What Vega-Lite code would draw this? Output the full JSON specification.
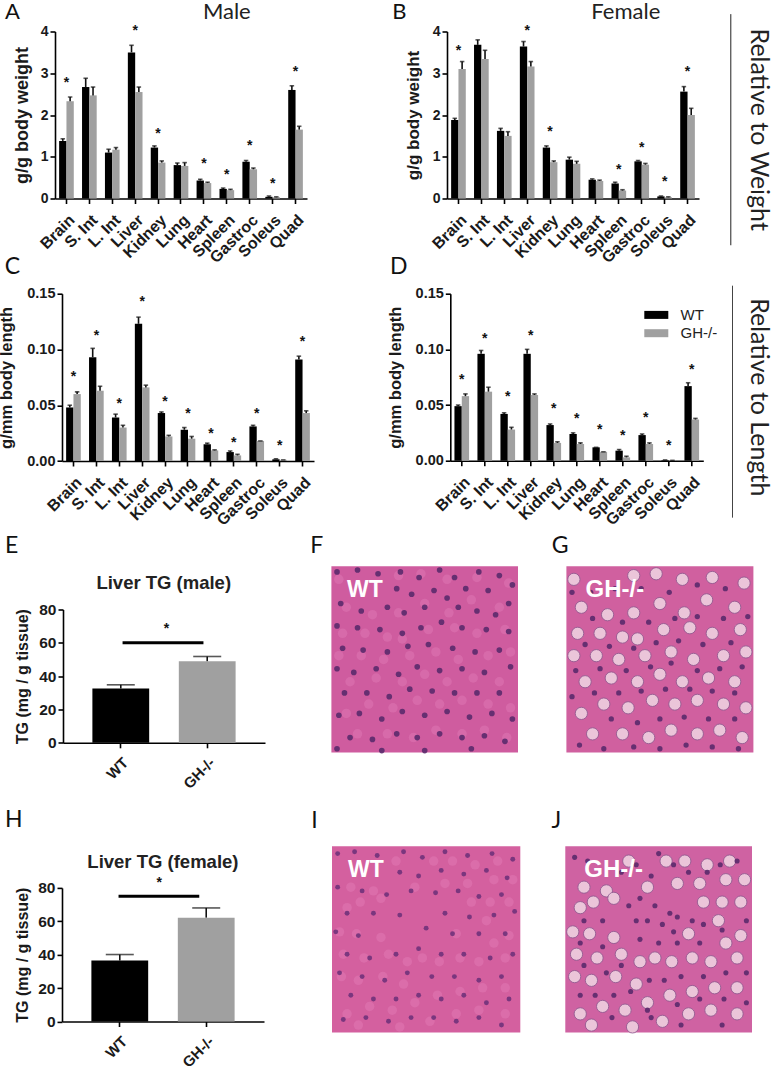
{
"$schema":"https://vega.github.io/schema/vega-lite/v6.json",
"padding":{"left":-2,"top":0.5,"right":0,"bottom":0},
"background":"white",
"bounds":"flush","spacing":578,
"config":{"view":{"stroke":null},"axis":{"grid":false,"domainColor":"#000","domainWidth":1.6,"tickColor":"#000","tickWidth":1.6,"tickSize":5,"labelFont":"Liberation Sans","labelFontWeight":"bold","labelColor":"#1a1a1a","labelOverlap":false,"labelBound":false,"labelFlush":false,"titleFont":"Liberation Sans","titleFontWeight":"bold","titleColor":"#1a1a1a"}},
"datasets":{
"a":[{"organ":"Brain","group":"WT","v":1.38,"e":1.43},{"organ":"Brain","group":"GH-/-","v":2.33,"e":2.43},{"organ":"S. Int","group":"WT","v":2.67,"e":2.88},{"organ":"S. Int","group":"GH-/-","v":2.47,"e":2.67},{"organ":"L. Int","group":"WT","v":1.1,"e":1.18},{"organ":"L. Int","group":"GH-/-","v":1.17,"e":1.22},{"organ":"Liver","group":"WT","v":3.5,"e":3.67},{"organ":"Liver","group":"GH-/-","v":2.55,"e":2.67},{"organ":"Kidney","group":"WT","v":1.22,"e":1.26},{"organ":"Kidney","group":"GH-/-","v":0.86,"e":0.9},{"organ":"Lung","group":"WT","v":0.8,"e":0.85},{"organ":"Lung","group":"GH-/-","v":0.78,"e":0.86},{"organ":"Heart","group":"WT","v":0.43,"e":0.46},{"organ":"Heart","group":"GH-/-","v":0.37,"e":0.39},{"organ":"Spleen","group":"WT","v":0.23,"e":0.25},{"organ":"Spleen","group":"GH-/-","v":0.2,"e":0.22},{"organ":"Gastroc","group":"WT","v":0.88,"e":0.91},{"organ":"Gastroc","group":"GH-/-","v":0.7,"e":0.73},{"organ":"Soleus","group":"WT","v":0.04,"e":0.06},{"organ":"Soleus","group":"GH-/-","v":0.03,"e":0.04},{"organ":"Quad","group":"WT","v":2.6,"e":2.7},{"organ":"Quad","group":"GH-/-","v":1.65,"e":1.73}],
"b":[{"organ":"Brain","group":"WT","v":1.88,"e":1.92},{"organ":"Brain","group":"GH-/-","v":3.1,"e":3.28},{"organ":"S. Int","group":"WT","v":3.68,"e":3.8},{"organ":"S. Int","group":"GH-/-","v":3.34,"e":3.55},{"organ":"L. Int","group":"WT","v":1.62,"e":1.68},{"organ":"L. Int","group":"GH-/-","v":1.5,"e":1.6},{"organ":"Liver","group":"WT","v":3.64,"e":3.76},{"organ":"Liver","group":"GH-/-","v":3.16,"e":3.28},{"organ":"Kidney","group":"WT","v":1.22,"e":1.26},{"organ":"Kidney","group":"GH-/-","v":0.87,"e":0.9},{"organ":"Lung","group":"WT","v":0.93,"e":0.99},{"organ":"Lung","group":"GH-/-","v":0.83,"e":0.89},{"organ":"Heart","group":"WT","v":0.45,"e":0.47},{"organ":"Heart","group":"GH-/-","v":0.42,"e":0.44},{"organ":"Spleen","group":"WT","v":0.36,"e":0.39},{"organ":"Spleen","group":"GH-/-","v":0.19,"e":0.21},{"organ":"Gastroc","group":"WT","v":0.89,"e":0.91},{"organ":"Gastroc","group":"GH-/-","v":0.81,"e":0.84},{"organ":"Soleus","group":"WT","v":0.05,"e":0.06},{"organ":"Soleus","group":"GH-/-","v":0.03,"e":0.04},{"organ":"Quad","group":"WT","v":2.56,"e":2.68},{"organ":"Quad","group":"GH-/-","v":2.0,"e":2.16}],
"c":[{"organ":"Brain","group":"WT","v":0.048,"e":0.05},{"organ":"Brain","group":"GH-/-","v":0.06,"e":0.062},{"organ":"S. Int","group":"WT","v":0.093,"e":0.101},{"organ":"S. Int","group":"GH-/-","v":0.063,"e":0.067},{"organ":"L. Int","group":"WT","v":0.039,"e":0.042},{"organ":"L. Int","group":"GH-/-","v":0.03,"e":0.032},{"organ":"Liver","group":"WT","v":0.123,"e":0.129},{"organ":"Liver","group":"GH-/-","v":0.066,"e":0.068},{"organ":"Kidney","group":"WT","v":0.043,"e":0.044},{"organ":"Kidney","group":"GH-/-","v":0.022,"e":0.023},{"organ":"Lung","group":"WT","v":0.028,"e":0.03},{"organ":"Lung","group":"GH-/-","v":0.02,"e":0.022},{"organ":"Heart","group":"WT","v":0.015,"e":0.016},{"organ":"Heart","group":"GH-/-","v":0.0095,"e":0.01},{"organ":"Spleen","group":"WT","v":0.008,"e":0.009},{"organ":"Spleen","group":"GH-/-","v":0.005,"e":0.006},{"organ":"Gastroc","group":"WT","v":0.031,"e":0.032},{"organ":"Gastroc","group":"GH-/-","v":0.018,"e":0.018},{"organ":"Soleus","group":"WT","v":0.0015,"e":0.002},{"organ":"Soleus","group":"GH-/-","v":0.001,"e":0.001},{"organ":"Quad","group":"WT","v":0.091,"e":0.094},{"organ":"Quad","group":"GH-/-","v":0.043,"e":0.045}],
"d":[{"organ":"Brain","group":"WT","v":0.049,"e":0.05},{"organ":"Brain","group":"GH-/-","v":0.058,"e":0.06},{"organ":"S. Int","group":"WT","v":0.096,"e":0.099},{"organ":"S. Int","group":"GH-/-","v":0.062,"e":0.066},{"organ":"L. Int","group":"WT","v":0.042,"e":0.043},{"organ":"L. Int","group":"GH-/-","v":0.028,"e":0.03},{"organ":"Liver","group":"WT","v":0.096,"e":0.1},{"organ":"Liver","group":"GH-/-","v":0.059,"e":0.06},{"organ":"Kidney","group":"WT","v":0.032,"e":0.033},{"organ":"Kidney","group":"GH-/-","v":0.016,"e":0.017},{"organ":"Lung","group":"WT","v":0.024,"e":0.025},{"organ":"Lung","group":"GH-/-","v":0.015,"e":0.016},{"organ":"Heart","group":"WT","v":0.012,"e":0.012},{"organ":"Heart","group":"GH-/-","v":0.008,"e":0.008},{"organ":"Spleen","group":"WT","v":0.009,"e":0.01},{"organ":"Spleen","group":"GH-/-","v":0.003,"e":0.004},{"organ":"Gastroc","group":"WT","v":0.023,"e":0.024},{"organ":"Gastroc","group":"GH-/-","v":0.015,"e":0.016},{"organ":"Soleus","group":"WT","v":0.0005,"e":0.0007},{"organ":"Soleus","group":"GH-/-","v":0.0002,"e":0.0003},{"organ":"Quad","group":"WT","v":0.067,"e":0.07},{"organ":"Quad","group":"GH-/-","v":0.037,"e":0.038}],
"e":[{"group":"WT","v":32.6,"e":34.8},{"group":"GH-/-","v":49,"e":51.8}],
"h":[{"group":"WT","v":36.5,"e":40.1},{"group":"GH-/-","v":62.2,"e":68}],
"fn":[{"x":3,"y":3},{"x":14,"y":2},{"x":25,"y":4},{"x":37,"y":3},{"x":47,"y":6},{"x":58,"y":2},{"x":66,"y":6},{"x":79,"y":3},{"x":90,"y":5},{"x":97,"y":10},{"x":35,"y":12},{"x":43,"y":15},{"x":55,"y":13},{"x":62,"y":17},{"x":72,"y":12},{"x":84,"y":13},{"x":95,"y":20},{"x":5,"y":20},{"x":16,"y":24},{"x":30,"y":22},{"x":39,"y":25},{"x":50,"y":22},{"x":68,"y":22},{"x":78,"y":24},{"x":88,"y":26},{"x":3,"y":32},{"x":14,"y":33},{"x":26,"y":34},{"x":38,"y":36},{"x":48,"y":33},{"x":59,"y":30},{"x":70,"y":33},{"x":83,"y":34},{"x":95,"y":35},{"x":6,"y":44},{"x":17,"y":45},{"x":30,"y":46},{"x":41,"y":43},{"x":52,"y":42},{"x":65,"y":44},{"x":77,"y":46},{"x":90,"y":45},{"x":3,"y":55},{"x":12,"y":57},{"x":24,"y":55},{"x":36,"y":58},{"x":46,"y":54},{"x":58,"y":56},{"x":70,"y":55},{"x":82,"y":57},{"x":96,"y":54},{"x":7,"y":68},{"x":19,"y":68},{"x":31,"y":70},{"x":42,"y":66},{"x":54,"y":67},{"x":66,"y":68},{"x":78,"y":68},{"x":90,"y":68},{"x":4,"y":80},{"x":15,"y":79},{"x":27,"y":82},{"x":38,"y":78},{"x":50,"y":80},{"x":62,"y":78},{"x":74,"y":81},{"x":86,"y":79},{"x":97,"y":82},{"x":10,"y":92},{"x":22,"y":93},{"x":35,"y":90},{"x":46,"y":92},{"x":58,"y":90},{"x":70,"y":92},{"x":82,"y":91},{"x":93,"y":94},{"x":3,"y":98},{"x":27,"y":99},{"x":50,"y":99},{"x":75,"y":98}],
"gv":[{"x":4,"y":7},{"x":36,"y":5},{"x":48,"y":4},{"x":62,"y":7},{"x":78,"y":6},{"x":95,"y":9},{"x":8,"y":22},{"x":22,"y":26},{"x":36,"y":25},{"x":50,"y":20},{"x":63,"y":25},{"x":75,"y":18},{"x":90,"y":22},{"x":6,"y":36},{"x":18,"y":36},{"x":30,"y":38},{"x":38,"y":39},{"x":52,"y":34},{"x":66,"y":33},{"x":78,"y":36},{"x":93,"y":34},{"x":4,"y":48},{"x":16,"y":48},{"x":28,"y":50},{"x":42,"y":48},{"x":56,"y":46},{"x":68,"y":50},{"x":84,"y":48},{"x":96,"y":46},{"x":10,"y":62},{"x":24,"y":60},{"x":38,"y":62},{"x":50,"y":58},{"x":62,"y":62},{"x":76,"y":60},{"x":90,"y":62},{"x":8,"y":79},{"x":20,"y":74},{"x":33,"y":76},{"x":46,"y":72},{"x":58,"y":74},{"x":70,"y":72},{"x":84,"y":74},{"x":96,"y":76},{"x":14,"y":90},{"x":30,"y":90},{"x":44,"y":92},{"x":56,"y":88},{"x":70,"y":90},{"x":82,"y":88},{"x":94,"y":92}],
"gn":[{"x":3,"y":14},{"x":13,"y":14},{"x":26,"y":12},{"x":30,"y":30},{"x":14,"y":28},{"x":44,"y":30},{"x":58,"y":28},{"x":70,"y":27},{"x":84,"y":28},{"x":97,"y":27},{"x":10,"y":42},{"x":23,"y":43},{"x":36,"y":44},{"x":48,"y":41},{"x":60,"y":40},{"x":73,"y":42},{"x":88,"y":41},{"x":18,"y":55},{"x":32,"y":56},{"x":45,"y":54},{"x":56,"y":52},{"x":70,"y":56},{"x":82,"y":55},{"x":94,"y":54},{"x":5,"y":56},{"x":15,"y":68},{"x":28,"y":68},{"x":40,"y":67},{"x":53,"y":66},{"x":66,"y":66},{"x":78,"y":67},{"x":90,"y":68},{"x":3,"y":70},{"x":24,"y":82},{"x":38,"y":84},{"x":50,"y":82},{"x":63,"y":81},{"x":76,"y":82},{"x":90,"y":82},{"x":7,"y":96},{"x":20,"y":98},{"x":36,"y":97},{"x":50,"y":98},{"x":64,"y":96},{"x":78,"y":97},{"x":92,"y":98},{"x":40,"y":12},{"x":55,"y":14},{"x":70,"y":10},{"x":85,"y":12}],
"in":[{"x":3,"y":4},{"x":12,"y":3},{"x":24,"y":5},{"x":38,"y":3},{"x":48,"y":6},{"x":60,"y":3},{"x":72,"y":5},{"x":85,"y":4},{"x":96,"y":7},{"x":36,"y":14},{"x":46,"y":16},{"x":58,"y":13},{"x":70,"y":15},{"x":82,"y":13},{"x":93,"y":17},{"x":3,"y":22},{"x":16,"y":24},{"x":29,"y":26},{"x":42,"y":24},{"x":55,"y":25},{"x":67,"y":24},{"x":78,"y":27},{"x":90,"y":26},{"x":8,"y":36},{"x":22,"y":36},{"x":36,"y":37},{"x":60,"y":36},{"x":73,"y":38},{"x":86,"y":37},{"x":97,"y":35},{"x":2,"y":46},{"x":14,"y":48},{"x":50,"y":44},{"x":64,"y":47},{"x":78,"y":47},{"x":92,"y":47},{"x":8,"y":58},{"x":20,"y":60},{"x":34,"y":58},{"x":46,"y":55},{"x":58,"y":58},{"x":70,"y":58},{"x":84,"y":60},{"x":96,"y":58},{"x":4,"y":68},{"x":16,"y":70},{"x":28,"y":72},{"x":40,"y":68},{"x":53,"y":70},{"x":65,"y":70},{"x":78,"y":72},{"x":90,"y":70},{"x":10,"y":80},{"x":22,"y":82},{"x":34,"y":82},{"x":46,"y":80},{"x":58,"y":82},{"x":70,"y":80},{"x":82,"y":84},{"x":94,"y":82},{"x":6,"y":93},{"x":18,"y":92},{"x":30,"y":94},{"x":42,"y":92},{"x":54,"y":92},{"x":66,"y":94},{"x":78,"y":92},{"x":90,"y":96}],
"jv":[{"x":10,"y":22},{"x":22,"y":24},{"x":26,"y":28},{"x":8,"y":33},{"x":15,"y":30},{"x":4,"y":46},{"x":13,"y":47},{"x":26,"y":49},{"x":6,"y":58},{"x":17,"y":60},{"x":30,"y":58},{"x":40,"y":62},{"x":5,"y":70},{"x":14,"y":72},{"x":27,"y":70},{"x":38,"y":74},{"x":48,"y":60},{"x":57,"y":62},{"x":68,"y":60},{"x":78,"y":62},{"x":92,"y":60},{"x":66,"y":47},{"x":86,"y":52},{"x":94,"y":48},{"x":74,"y":30},{"x":84,"y":30},{"x":94,"y":30},{"x":82,"y":40},{"x":64,"y":8},{"x":54,"y":8},{"x":76,"y":10},{"x":88,"y":8},{"x":60,"y":20},{"x":72,"y":20},{"x":86,"y":18},{"x":96,"y":18},{"x":44,"y":22},{"x":34,"y":8},{"x":8,"y":90},{"x":20,"y":86},{"x":32,"y":88},{"x":44,"y":84},{"x":56,"y":80},{"x":68,"y":78},{"x":80,"y":76},{"x":92,"y":76},{"x":14,"y":96},{"x":36,"y":97},{"x":52,"y":94},{"x":66,"y":90},{"x":78,"y":88},{"x":92,"y":90}],
"jn":[{"x":5,"y":6},{"x":12,"y":8},{"x":38,"y":10},{"x":50,"y":4},{"x":58,"y":10},{"x":76,"y":14},{"x":83,"y":10},{"x":92,"y":8},{"x":30,"y":14},{"x":46,"y":16},{"x":66,"y":14},{"x":40,"y":28},{"x":48,"y":32},{"x":56,"y":36},{"x":44,"y":40},{"x":52,"y":42},{"x":60,"y":38},{"x":38,"y":40},{"x":34,"y":32},{"x":20,"y":40},{"x":10,"y":40},{"x":74,"y":42},{"x":84,"y":45},{"x":97,"y":40},{"x":40,"y":50},{"x":50,"y":52},{"x":60,"y":52},{"x":72,"y":52},{"x":58,"y":46},{"x":68,"y":40},{"x":8,"y":52},{"x":20,"y":54},{"x":30,"y":64},{"x":22,"y":68},{"x":10,"y":64},{"x":35,"y":78},{"x":45,"y":72},{"x":53,"y":72},{"x":62,"y":70},{"x":74,"y":70},{"x":86,"y":68},{"x":97,"y":68},{"x":8,"y":80},{"x":16,"y":80},{"x":26,"y":80},{"x":44,"y":88},{"x":60,"y":85},{"x":72,"y":82},{"x":85,"y":82},{"x":97,"y":84},{"x":25,"y":92},{"x":46,"y":92},{"x":62,"y":96},{"x":84,"y":96}]
},
"vconcat":[
{"bounds":"flush","spacing":262.2,"vconcat":[
{"bounds":"flush","spacing":675.8,"hconcat":[
{"bounds":"flush","spacing":140,"hconcat":[
{"width":252,"height":167,"data":{"name":"a"},
"encoding":{"x":{"field":"organ","type":"nominal","title":null,"scale":{"domain":["Brain","S. Int","L. Int","Liver","Kidney","Lung","Heart","Spleen","Gastroc","Soleus","Quad"],"paddingInner":0.36,"paddingOuter":0.18},"axis":{"labelAngle":-45,"labelFontSize":16,"labelPadding":8}},"y":{"field":"v","type":"quantitative","title":"g/g body weight","scale":{"domain":[0,4],"nice":false},"axis":{"values":[0,1,2,3,4],"labelFontSize":14,"titleFontSize":18,"titlePadding":9}}},
"layer":[
{"mark":{"type":"bar"},"encoding":{"xOffset":{"field":"group","scale":{"domain":["WT","GH-/-"]}},"color":{"field":"group","scale":{"domain":["WT","GH-/-"],"range":["#000000","#a0a0a0"]}}}},
{"mark":{"type":"rule","color":"#111","strokeWidth":1.6},"encoding":{"xOffset":{"field":"group","scale":{"domain":["WT","GH-/-"]}},"y2":{"field":"e"}}},
{"mark":{"type":"tick","color":"#111","size":4.5,"thickness":1.6},"encoding":{"xOffset":{"field":"group","scale":{"domain":["WT","GH-/-"]}},"y":{"field":"e","type":"quantitative","title":"g/g body weight","scale":{"domain":[0,4],"nice":false}}}},
{"data":{"values":[{"organ":"Brain","v":2.83},{"organ":"Liver","v":4.09},{"organ":"Kidney","v":1.61},{"organ":"Heart","v":0.9},{"organ":"Spleen","v":0.64},{"organ":"Gastroc","v":1.32},{"organ":"Soleus","v":0.42},{"organ":"Quad","v":3.11}]},"mark":{"type":"text","text":"*","font":"Liberation Sans","fontWeight":"bold","fontSize":14,"dy":3,"color":"#111"}},
{"data":{"values":[{"organ":"Brain","v":4.47,"label":"A"}]},"mark":{"type":"text","font":"Lato","fontSize":22,"dx":-54,"color":"#111"},"encoding":{"text":{"field":"label"}}},
{"data":{"values":[{"organ":"Spleen","v":4.47,"label":"Male"}]},"mark":{"type":"text","font":"Lato","fontSize":22,"color":"#222"},"encoding":{"text":{"field":"label"}}}
]},
{"width":252,"height":167,"data":{"name":"b"},
"encoding":{"x":{"field":"organ","type":"nominal","title":null,"scale":{"domain":["Brain","S. Int","L. Int","Liver","Kidney","Lung","Heart","Spleen","Gastroc","Soleus","Quad"],"paddingInner":0.36,"paddingOuter":0.18},"axis":{"labelAngle":-45,"labelFontSize":16,"labelPadding":8}},"y":{"field":"v","type":"quantitative","title":"g/g body weight","scale":{"domain":[0,4],"nice":false},"axis":{"values":[0,1,2,3,4],"labelFontSize":14,"titleFontSize":17,"titlePadding":10}}},
"layer":[
{"mark":{"type":"bar"},"encoding":{"xOffset":{"field":"group","scale":{"domain":["WT","GH-/-"]}},"color":{"field":"group","scale":{"domain":["WT","GH-/-"],"range":["#000000","#a0a0a0"]}}}},
{"mark":{"type":"rule","color":"#111","strokeWidth":1.6},"encoding":{"xOffset":{"field":"group","scale":{"domain":["WT","GH-/-"]}},"y2":{"field":"e"}}},
{"mark":{"type":"tick","color":"#111","size":4.5,"thickness":1.6},"encoding":{"xOffset":{"field":"group","scale":{"domain":["WT","GH-/-"]}},"y":{"field":"e","type":"quantitative","title":"g/g body weight","scale":{"domain":[0,4],"nice":false}}}},
{"data":{"values":[{"organ":"Brain","v":3.61},{"organ":"Liver","v":4.09},{"organ":"Kidney","v":1.66},{"organ":"Spleen","v":0.76},{"organ":"Gastroc","v":1.27},{"organ":"Soleus","v":0.46},{"organ":"Quad","v":3.11}]},"mark":{"type":"text","text":"*","font":"Liberation Sans","fontWeight":"bold","fontSize":14,"dy":3,"color":"#111"}},
{"data":{"values":[{"organ":"Brain","v":4.47,"label":"B"}]},"mark":{"type":"text","font":"Lato","fontSize":22,"dx":-59,"color":"#111"},"encoding":{"text":{"field":"label"}}},
{"data":{"values":[{"organ":"Spleen","v":4.47,"label":"Female"}]},"mark":{"type":"text","font":"Lato","fontSize":22,"dx":7,"color":"#222"},"encoding":{"text":{"field":"label"}}}
]}
]},
{"width":42,"height":167,"layer":[
{"data":{"values":[{"x":0,"y":1.104,"y2":-0.28}]},"mark":{"type":"rule","color":"#222","strokeWidth":1},"encoding":{"x":{"field":"x","type":"quantitative","axis":null,"scale":{"domain":[0,1],"nice":false}},"y":{"field":"y","type":"quantitative","axis":null,"scale":{"domain":[0,1],"nice":false}},"y2":{"field":"y2"}}},
{"data":{"values":[{"x":0.66,"y":0.412,"label":"Relative to Weight"}]},"mark":{"type":"text","font":"Lato","fontSize":25,"angle":90,"color":"#222"},"encoding":{"x":{"field":"x","type":"quantitative","axis":null,"scale":{"domain":[0,1],"nice":false}},"y":{"field":"y","type":"quantitative","axis":null,"scale":{"domain":[0,1],"nice":false}},"text":{"field":"label"}}}
]}
]},
{"bounds":"flush","spacing":0,"hconcat":[
{"width":6.7,"height":1,"data":{"values":[]},"mark":"rule","encoding":{}},
{"bounds":"flush","spacing":670.5,"hconcat":[
{"bounds":"flush","spacing":136.3,"hconcat":[
{"width":252,"height":167.3,"data":{"name":"c"},
"encoding":{"x":{"field":"organ","type":"nominal","title":null,"scale":{"domain":["Brain","S. Int","L. Int","Liver","Kidney","Lung","Heart","Spleen","Gastroc","Soleus","Quad"],"paddingInner":0.36,"paddingOuter":0.18},"axis":{"labelAngle":-45,"labelFontSize":16,"labelPadding":8}},"y":{"field":"v","type":"quantitative","title":"g/mm body length","scale":{"domain":[0,0.15],"nice":false},"axis":{"values":[0,0.05,0.1,0.15],"format":".2f","labelFontSize":14.5,"titleFontSize":16.5,"titlePadding":12}}},
"layer":[
{"mark":{"type":"bar"},"encoding":{"xOffset":{"field":"group","scale":{"domain":["WT","GH-/-"]}},"color":{"field":"group","scale":{"domain":["WT","GH-/-"],"range":["#000000","#a0a0a0"]}}}},
{"mark":{"type":"rule","color":"#111","strokeWidth":1.6},"encoding":{"xOffset":{"field":"group","scale":{"domain":["WT","GH-/-"]}},"y2":{"field":"e"}}},
{"mark":{"type":"tick","color":"#111","size":4.5,"thickness":1.6},"encoding":{"xOffset":{"field":"group","scale":{"domain":["WT","GH-/-"]}},"y":{"field":"e","type":"quantitative","title":"g/mm body length","scale":{"domain":[0,0.15],"nice":false}}}},
{"data":{"values":[{"organ":"Brain","v":0.078},{"organ":"S. Int","v":0.115},{"organ":"L. Int","v":0.054},{"organ":"Liver","v":0.145},{"organ":"Kidney","v":0.056},{"organ":"Lung","v":0.045},{"organ":"Heart","v":0.027},{"organ":"Spleen","v":0.0185},{"organ":"Gastroc","v":0.0445},{"organ":"Soleus","v":0.016},{"organ":"Quad","v":0.109}]},"mark":{"type":"text","text":"*","font":"Liberation Sans","fontWeight":"bold","fontSize":14,"dy":3,"color":"#111"}},
{"data":{"values":[{"organ":"Brain","v":0.1742,"label":"C"}]},"mark":{"type":"text","font":"Lato","fontSize":23,"dx":-61,"color":"#111"},"encoding":{"text":{"field":"label"}}}
]},
{"width":253,"height":167,"data":{"name":"d"},
"encoding":{"x":{"field":"organ","type":"nominal","title":null,"scale":{"domain":["Brain","S. Int","L. Int","Liver","Kidney","Lung","Heart","Spleen","Gastroc","Soleus","Quad"],"paddingInner":0.36,"paddingOuter":0.18},"axis":{"labelAngle":-45,"labelFontSize":16,"labelPadding":8}},"y":{"field":"v","type":"quantitative","title":"g/mm body length","scale":{"domain":[0,0.15],"nice":false},"axis":{"values":[0,0.05,0.1,0.15],"format":".2f","labelFontSize":14.5,"titleFontSize":16.5,"titlePadding":12}}},
"layer":[
{"mark":{"type":"bar"},"encoding":{"xOffset":{"field":"group","scale":{"domain":["WT","GH-/-"]}},"color":{"field":"group","scale":{"domain":["WT","GH-/-"],"range":["#000000","#a0a0a0"]},"legend":{"orient":"none","legendX":593.8,"legendY":275.9,"title":null,"symbolType":"M-12,-4H12V4H-12Z","symbolSize":4,"symbolStrokeWidth":0,"labelFont":"Liberation Sans","labelFontSize":15,"labelColor":"#222","labelOffset":16.7,"rowPadding":2.3}}}},
{"mark":{"type":"rule","color":"#111","strokeWidth":1.6},"encoding":{"xOffset":{"field":"group","scale":{"domain":["WT","GH-/-"]}},"y2":{"field":"e"}}},
{"mark":{"type":"tick","color":"#111","size":4.5,"thickness":1.6},"encoding":{"xOffset":{"field":"group","scale":{"domain":["WT","GH-/-"]}},"y":{"field":"e","type":"quantitative","title":"g/mm body length","scale":{"domain":[0,0.15],"nice":false}}}},
{"data":{"values":[{"organ":"Brain","v":0.075},{"organ":"S. Int","v":0.112},{"organ":"L. Int","v":0.06},{"organ":"Liver","v":0.115},{"organ":"Kidney","v":0.049},{"organ":"Lung","v":0.04},{"organ":"Heart","v":0.03},{"organ":"Spleen","v":0.0245},{"organ":"Gastroc","v":0.041},{"organ":"Soleus","v":0.0155},{"organ":"Quad","v":0.084}]},"mark":{"type":"text","text":"*","font":"Liberation Sans","fontWeight":"bold","fontSize":14,"dy":3,"color":"#111"}},
{"data":{"values":[{"organ":"Brain","v":0.1743,"label":"D"}]},"mark":{"type":"text","font":"Lato","fontSize":23,"dx":-63,"color":"#111"},"encoding":{"text":{"field":"label"}}}
]}
]},
{"width":42,"height":167,"layer":[
{"data":{"values":[{"x":0,"y":1.048,"y2":-0.341}]},"mark":{"type":"rule","color":"#444","strokeWidth":1},"encoding":{"x":{"field":"x","type":"quantitative","axis":null,"scale":{"domain":[0,1],"nice":false}},"y":{"field":"y","type":"quantitative","axis":null,"scale":{"domain":[0,1],"nice":false}},"y2":{"field":"y2"}}},
{"data":{"values":[{"x":0.626,"y":0.38,"label":"Relative to Length"}]},"mark":{"type":"text","font":"Lato","fontSize":25,"angle":90,"color":"#222"},"encoding":{"x":{"field":"x","type":"quantitative","axis":null,"scale":{"domain":[0,1],"nice":false}},"y":{"field":"y","type":"quantitative","axis":null,"scale":{"domain":[0,1],"nice":false}},"text":{"field":"label"}}}
]}
]}
]}
]},
{"bounds":"flush","spacing":278.4,"vconcat":[
{"bounds":"flush","spacing":0,"hconcat":[
{"width":7.8,"height":1,"data":{"values":[]},"mark":"rule","encoding":{}},
{"bounds":"flush","spacing":503.4,"hconcat":[
{"bounds":"flush","spacing":66.4,"hconcat":[
{"width":202,"height":133.3,"data":{"name":"e"},"resolve":{"scale":{"x":"independent"}},
"encoding":{"y":{"field":"v","type":"quantitative","title":"TG (mg / g tissue)","scale":{"domain":[0,80],"nice":false},"axis":{"values":[0,20,40,60,80],"labelFontSize":15.5,"titleFontSize":16,"titlePadding":8}}},
"layer":[
{"mark":{"type":"bar"},"encoding":{"x":{"field":"group","type":"nominal","title":null,"scale":{"domain":["WT","GH-/-"],"paddingInner":0.343,"paddingOuter":0.34},"axis":{"labelAngle":-45,"labelFontSize":15,"labelPadding":7}},"color":{"field":"group","scale":{"domain":["WT","GH-/-"],"range":["#000000","#a0a0a0"]}}}},
{"mark":{"type":"rule","color":"#111","strokeWidth":1.6},"encoding":{"x":{"field":"group","type":"nominal","axis":null,"scale":{"domain":["WT","GH-/-"],"paddingInner":0.343,"paddingOuter":0.34}},"y2":{"field":"e"}}},
{"mark":{"type":"tick","color":"#111","size":28,"thickness":1.6},"encoding":{"x":{"field":"group","type":"nominal","axis":null,"scale":{"domain":["WT","GH-/-"],"paddingInner":0.343,"paddingOuter":0.34}},"y":{"field":"e","type":"quantitative","title":"TG (mg / g tissue)","scale":{"domain":[0,80],"nice":false}}}},
{"data":{"values":[{"p":0.69,"p2":1.627,"v":60}]},"mark":{"type":"rule","color":"#000","strokeWidth":3},"encoding":{"x":{"field":"p","type":"quantitative","axis":null,"scale":{"domain":[0,2.34],"nice":false}},"x2":{"field":"p2"}}},
{"data":{"values":[{"p":1.198,"v":70,"label":"*"}]},"mark":{"type":"text","font":"Liberation Sans","fontWeight":"bold","fontSize":14,"dy":3,"color":"#111"},"encoding":{"x":{"field":"p","type":"quantitative","axis":null,"scale":{"domain":[0,2.34],"nice":false}},"text":{"field":"label"}}},
{"data":{"values":[{"p":-0.594,"v":118,"label":"E"}]},"mark":{"type":"text","font":"Lato","fontSize":23,"color":"#111"},"encoding":{"x":{"field":"p","type":"quantitative","axis":null,"scale":{"domain":[0,2.34],"nice":false}},"text":{"field":"label"}}},
{"data":{"values":[{"p":1.167,"v":96,"label":"Liver TG (male)"}]},"mark":{"type":"text","font":"Liberation Sans","fontWeight":"bold","fontSize":18.5,"color":"#222"},"encoding":{"x":{"field":"p","type":"quantitative","axis":null,"scale":{"domain":[0,2.34],"nice":false}},"text":{"field":"label"}}}
]},
{"width":186.6,"height":133.3,
"encoding":{"x":{"field":"x","type":"quantitative","axis":null,"scale":{"domain":[0,100],"nice":false,"zero":false}},"y":{"field":"y","type":"quantitative","axis":null,"scale":{"domain":[94.8,23.2],"nice":false,"zero":false}}},
"layer":[
{"data":{"values":[{"x":0,"x2":100,"y":0,"y2":100}]},"mark":{"type":"rect","color":"#cf5c9f"},"encoding":{"x2":{"field":"x2"},"y2":{"field":"y2"}}},
{"data":{"name":"gv"},"mark":{"type":"circle","color":"#ea8cc4","size":90,"opacity":0.3}},
{"data":{"name":"fn"},"mark":{"type":"circle","color":"#5a2a6c","size":32,"opacity":0.9}},
{"data":{"values":[{"x":18,"y":12.9,"label":"WT"}]},"mark":{"type":"text","font":"Liberation Sans","fontWeight":"bold","fontSize":23,"color":"#ffffff"},"encoding":{"text":{"field":"label"}}},
{"data":{"values":[{"x":-7.9,"y":-10.9,"label":"F"}]},"mark":{"type":"text","font":"Lato","fontSize":23,"color":"#111"},"encoding":{"text":{"field":"label"}}}
]}
]},
{"width":187,"height":133.3,
"encoding":{"x":{"field":"x","type":"quantitative","axis":null,"scale":{"domain":[0,100],"nice":false,"zero":false}},"y":{"field":"y","type":"quantitative","axis":null,"scale":{"domain":[94.8,23.2],"nice":false,"zero":false}}},
"layer":[
{"data":{"values":[{"x":0,"x2":100,"y":0,"y2":100}]},"mark":{"type":"rect","color":"#d0609f"},"encoding":{"x2":{"field":"x2"},"y2":{"field":"y2"}}},
{"data":{"name":"gv"},"mark":{"type":"circle","color":"#efd0e0","size":150,"opacity":0.9,"stroke":"#8d5a90","strokeWidth":0.9}},
{"data":{"name":"gn"},"mark":{"type":"circle","color":"#5a2a6c","size":28,"opacity":0.9}},
{"data":{"values":[{"x":25.9,"y":12.9,"label":"GH-/-"}]},"mark":{"type":"text","font":"Liberation Sans","fontWeight":"bold","fontSize":24,"color":"#ffffff"},"encoding":{"text":{"field":"label"}}},
{"data":{"values":[{"x":-3.4,"y":-10.9,"label":"G"}]},"mark":{"type":"text","font":"Lato","fontSize":23,"color":"#111"},"encoding":{"text":{"field":"label"}}}
]}
]}
]},
{"bounds":"flush","spacing":0,"hconcat":[
{"width":6.2,"height":1,"data":{"values":[]},"mark":"rule","encoding":{}},
{"bounds":"flush","spacing":503.3,"hconcat":[
{"bounds":"flush","spacing":68,"hconcat":[
{"width":202,"height":133.6,"data":{"name":"h"},"resolve":{"scale":{"x":"independent"}},
"encoding":{"y":{"field":"v","type":"quantitative","title":"TG (mg / g tissue)","scale":{"domain":[0,80],"nice":false},"axis":{"values":[0,20,40,60,80],"labelFontSize":15.5,"titleFontSize":16,"titlePadding":7}}},
"layer":[
{"mark":{"type":"bar"},"encoding":{"x":{"field":"group","type":"nominal","title":null,"scale":{"domain":["WT","GH-/-"],"paddingInner":0.343,"paddingOuter":0.34},"axis":{"labelAngle":-45,"labelFontSize":15,"labelPadding":7}},"color":{"field":"group","scale":{"domain":["WT","GH-/-"],"range":["#000000","#a0a0a0"]}}}},
{"mark":{"type":"rule","color":"#111","strokeWidth":1.6},"encoding":{"x":{"field":"group","type":"nominal","axis":null,"scale":{"domain":["WT","GH-/-"],"paddingInner":0.343,"paddingOuter":0.34}},"y2":{"field":"e"}}},
{"mark":{"type":"tick","color":"#111","size":28,"thickness":1.6},"encoding":{"x":{"field":"group","type":"nominal","axis":null,"scale":{"domain":["WT","GH-/-"],"paddingInner":0.343,"paddingOuter":0.34}},"y":{"field":"e","type":"quantitative","title":"TG (mg / g tissue)","scale":{"domain":[0,80],"nice":false}}}},
{"data":{"values":[{"p":0.655,"p2":1.59,"v":75}]},"mark":{"type":"rule","color":"#000","strokeWidth":3},"encoding":{"x":{"field":"p","type":"quantitative","axis":null,"scale":{"domain":[0,2.34],"nice":false}},"x2":{"field":"p2"}}},
{"data":{"values":[{"p":1.126,"v":85,"label":"*"}]},"mark":{"type":"text","font":"Liberation Sans","fontWeight":"bold","fontSize":14,"dy":3,"color":"#111"},"encoding":{"x":{"field":"p","type":"quantitative","axis":null,"scale":{"domain":[0,2.34],"nice":false}},"text":{"field":"label"}}},
{"data":{"values":[{"p":-0.56,"v":120.5,"label":"H"}]},"mark":{"type":"text","font":"Lato","fontSize":23,"color":"#111"},"encoding":{"x":{"field":"p","type":"quantitative","axis":null,"scale":{"domain":[0,2.34],"nice":false}},"text":{"field":"label"}}},
{"data":{"values":[{"p":1.169,"v":95.6,"label":"Liver TG (female)"}]},"mark":{"type":"text","font":"Liberation Sans","fontWeight":"bold","fontSize":18.5,"color":"#222"},"encoding":{"x":{"field":"p","type":"quantitative","axis":null,"scale":{"domain":[0,2.34],"nice":false}},"text":{"field":"label"}}}
]},
{"width":188.3,"height":133.6,
"encoding":{"x":{"field":"x","type":"quantitative","axis":null,"scale":{"domain":[0,100],"nice":false,"zero":false}},"y":{"field":"y","type":"quantitative","axis":null,"scale":{"domain":[94.1,22.4],"nice":false,"zero":false}}},
"layer":[
{"data":{"values":[{"x":0,"x2":100,"y":0,"y2":100}]},"mark":{"type":"rect","color":"#d4609f"},"encoding":{"x2":{"field":"x2"},"y2":{"field":"y2"}}},
{"data":{"name":"jv"},"mark":{"type":"circle","color":"#ea8cc4","size":90,"opacity":0.3}},
{"data":{"name":"in"},"mark":{"type":"circle","color":"#6a2f78","size":24,"opacity":0.85}},
{"data":{"values":[{"x":18,"y":12.9,"label":"WT"}]},"mark":{"type":"text","font":"Liberation Sans","fontWeight":"bold","fontSize":23,"color":"#ffffff"},"encoding":{"text":{"field":"label"}}},
{"data":{"values":[{"x":-9.3,"y":-13.6,"label":"I"}]},"mark":{"type":"text","font":"Lato","fontSize":23,"color":"#111"},"encoding":{"text":{"field":"label"}}}
]}
]},
{"width":186.7,"height":133.6,
"encoding":{"x":{"field":"x","type":"quantitative","axis":null,"scale":{"domain":[0,100],"nice":false,"zero":false}},"y":{"field":"y","type":"quantitative","axis":null,"scale":{"domain":[94.1,22.4],"nice":false,"zero":false}}},
"layer":[
{"data":{"values":[{"x":0,"x2":100,"y":0,"y2":100}]},"mark":{"type":"rect","color":"#cf62a2"},"encoding":{"x2":{"field":"x2"},"y2":{"field":"y2"}}},
{"data":{"name":"jv"},"mark":{"type":"circle","color":"#efd0e0","size":150,"opacity":0.9,"stroke":"#8d5a90","strokeWidth":0.9}},
{"data":{"name":"jn"},"mark":{"type":"circle","color":"#5a2a6c","size":26,"opacity":0.9}},
{"data":{"values":[{"x":25.9,"y":12.9,"label":"GH-/-"}]},"mark":{"type":"text","font":"Liberation Sans","fontWeight":"bold","fontSize":24,"color":"#ffffff"},"encoding":{"text":{"field":"label"}}},
{"data":{"values":[{"x":-4.8,"y":-13.6,"label":"J"}]},"mark":{"type":"text","font":"Lato","fontSize":23,"color":"#111"},"encoding":{"text":{"field":"label"}}}
]}
]}
]}
]}
]
}
